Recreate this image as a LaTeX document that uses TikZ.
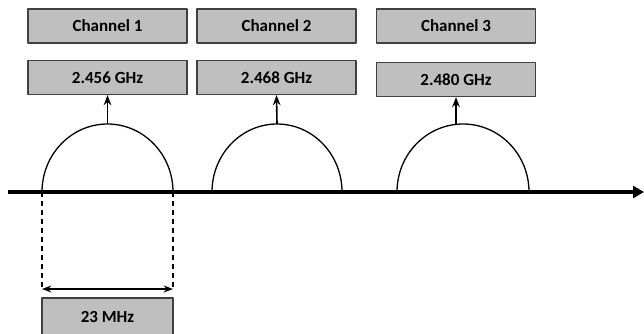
\documentclass[tikz,border=0pt]{standalone}
\usepackage{fontspec}
\setmainfont{Carlito}
\usetikzlibrary{arrows.meta}
\tikzset{
  every picture/.style={line join=round, >=Stealth},
  chanbox/.style={draw=black!75, line width=1.1pt, fill=gray!50, minimum width=159pt,
    minimum height=34pt, inner sep=0pt, font=\bfseries\fontsize{17}{20}\selectfont},
  dome/.style={line width=1.3pt},
}
\begin{document}
\begin{tikzpicture}[x=1pt,y=-1pt]
\useasboundingbox (0,0) rectangle (644,333);
\clip (0,0) rectangle (644,333);
% channels
\node[chanbox] (chan1) at (107.5,26) {Channel 1};
\node[chanbox] (chan2) at (276.5,26) {Channel 2};
\node[chanbox] (chan3) at (456,26) {Channel 3};
% centre frequencies
\node[chanbox] (freq1) at (107.5,77.5) {2.456 GHz};
\node[chanbox] (freq2) at (276.5,77.5) {2.468 GHz};
\node[chanbox] (freq3) at (456,79.5) {2.480 GHz};
% frequency axis
\draw[line width=3.5pt,-{Triangle[length=11pt,width=12pt]}] (8,192) -- (644,192);
% spectra
\draw[dome] (42,192) arc[start angle=180,end angle=0,x radius=65.5pt,y radius=68pt];
\draw[dome] (212,192) arc[start angle=180,end angle=0,x radius=65pt,y radius=68pt];
\draw[dome] (397,192) arc[start angle=180,end angle=0,x radius=66pt,y radius=68pt];
\coordinate (top1) at (107.5,124);
\coordinate (top2) at (277,124);
\coordinate (top3) at (456,124.5);
\draw[->,line width=1.6pt] (top1) -- (freq1.south);
\draw[->,line width=1.6pt] (top2) -- (freq2.south);
\draw[->,line width=1.6pt] (top3) -- (freq3.south);
% bandwidth
\coordinate (bwl) at (42,192);
\coordinate (bwr) at (173,192);
\coordinate (bwl') at (42,289);
\coordinate (bwr') at (173,289);
\draw[line width=1.2pt,dash pattern=on 5pt off 4pt] (bwl) -- (bwl') (bwr) -- (bwr');
\draw[<->,line width=1.4pt] (bwl') -- (bwr');
\node[chanbox,minimum width=131pt,minimum height=38pt] (bw) at (107.5,317) {23 MHz};
\end{tikzpicture}
\end{document}
